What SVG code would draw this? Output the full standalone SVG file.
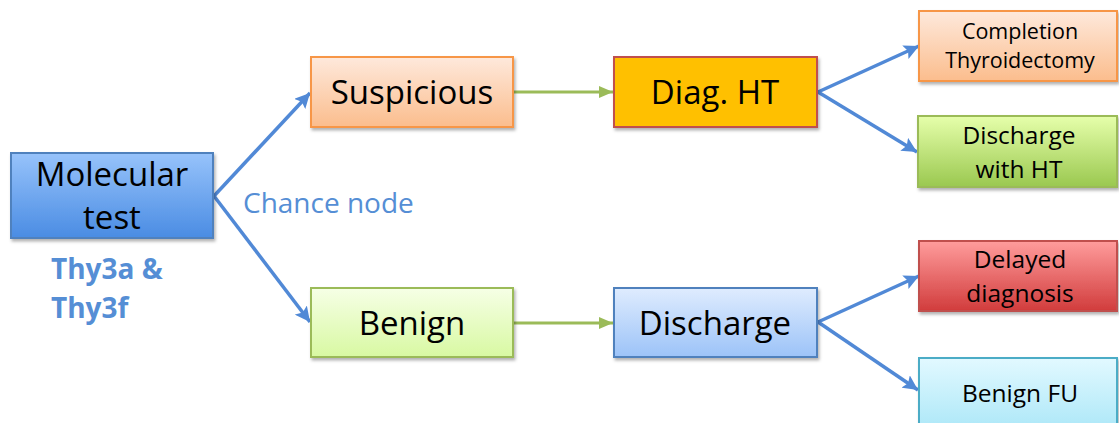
<svg xmlns="http://www.w3.org/2000/svg" width="1119" height="423" viewBox="0 0 1119 423">
  <style>
    .lbl { font-family: "Open Sans", "Liberation Sans", sans-serif; fill: #000; text-anchor: middle; }
    .big { font-size: 33px; }
    .sm { font-size: 24.5px; }
    .xs { font-size: 21.5px; }
    .box { stroke-width: 2; filter: url(#shadow); }
    .blue { stroke: #5189d6; stroke-width: 3.5; fill: none; marker-end: url(#headBlue); }
    .green { stroke: #9bbb59; stroke-width: 3; fill: none; marker-end: url(#headGreen); }
    .note { font-family: "Open Sans", "Liberation Sans", sans-serif; fill: #558ed5; }
  </style>
  <defs>
    <filter id="shadow" x="-10%" y="-10%" width="130%" height="140%">
      <feDropShadow dx="1.5" dy="2.5" stdDeviation="1.8" flood-color="#000" flood-opacity="0.3"/>
    </filter>
    <marker id="headBlue" markerUnits="userSpaceOnUse" markerWidth="17" markerHeight="15" refX="15" refY="7.5" orient="auto">
      <path d="M0,0 L15,7.5 L0,15 L3,7.5 Z" fill="#5189d6"/>
    </marker>
    <marker id="headGreen" markerUnits="userSpaceOnUse" markerWidth="16" markerHeight="14" refX="14" refY="7" orient="auto">
      <path d="M0,1 L14,7 L0,13 Z" fill="#9bbb59"/>
    </marker>
    <linearGradient id="gBlue" x1="0" y1="0" x2="0" y2="1">
      <stop offset="0" stop-color="#97c3fb"/>
      <stop offset="1" stop-color="#4a8ce3"/>
    </linearGradient>
    <linearGradient id="gOrange" x1="0" y1="0" x2="0" y2="1">
      <stop offset="0" stop-color="#fee9dc"/>
      <stop offset="1" stop-color="#fbbd8d"/>
    </linearGradient>
    <linearGradient id="gGreen" x1="0" y1="0" x2="0" y2="1">
      <stop offset="0" stop-color="#e6ffab"/>
      <stop offset="1" stop-color="#9ac84f"/>
    </linearGradient>
    <linearGradient id="gPaleGreen" x1="0" y1="0" x2="0" y2="1">
      <stop offset="0" stop-color="#f6ffe6"/>
      <stop offset="1" stop-color="#d8f9a2"/>
    </linearGradient>
    <linearGradient id="gLightBlue" x1="0" y1="0" x2="0" y2="1">
      <stop offset="0" stop-color="#dfecfe"/>
      <stop offset="1" stop-color="#9cc3f8"/>
    </linearGradient>
    <linearGradient id="gRed" x1="0" y1="0" x2="0" y2="1">
      <stop offset="0" stop-color="#ff9c9c"/>
      <stop offset="1" stop-color="#d13c3c"/>
    </linearGradient>
    <linearGradient id="gCyan" x1="0" y1="0" x2="0" y2="1">
      <stop offset="0" stop-color="#e2f9ff"/>
      <stop offset="1" stop-color="#aee8f8"/>
    </linearGradient>
  </defs>

  <rect width="1119" height="423" fill="#fff"/>

  <!-- connectors -->
  <g id="connectors">
    <line class="blue" x1="214" y1="196" x2="310" y2="93"/>
    <line class="blue" x1="214" y1="196" x2="310" y2="322"/>
    <line class="green" x1="514" y1="92" x2="613" y2="92"/>
    <line class="green" x1="514" y1="323" x2="613" y2="323"/>
    <line class="blue" x1="818" y1="92" x2="919" y2="46"/>
    <line class="blue" x1="818" y1="92" x2="917" y2="152"/>
    <line class="blue" x1="818" y1="322" x2="919" y2="276"/>
    <line class="blue" x1="818" y1="322" x2="918" y2="390"/>
  </g>

  <!-- root chance node -->
  <g id="molecular-test">
    <rect class="box" x="11" y="153" width="202" height="85" fill="url(#gBlue)" stroke="#4f81bd"/>
    <text class="lbl big" x="112" y="186">Molecular</text>
    <text class="lbl big" x="112" y="229">test</text>
  </g>

  <g id="chance-label">
    <text class="note" x="243" y="213" font-size="28">Chance node</text>
  </g>

  <g id="thy-label">
    <text class="note" x="51" y="279" font-size="28" font-weight="bold">Thy3a &amp;</text>
    <text class="note" x="51" y="318" font-size="28" font-weight="bold">Thy3f</text>
  </g>

  <g id="suspicious">
    <rect class="box" x="311" y="57" width="202" height="70" fill="url(#gOrange)" stroke="#f79646"/>
    <text class="lbl big" x="412" y="104">Suspicious</text>
  </g>

  <g id="benign">
    <rect class="box" x="311" y="288" width="202" height="69" fill="url(#gPaleGreen)" stroke="#9bbb59"/>
    <text class="lbl big" x="412" y="335">Benign</text>
  </g>

  <g id="diag-ht">
    <rect class="box" x="614" y="57" width="203" height="70" fill="#ffc000" stroke="#c0504d"/>
    <text class="lbl big" x="715" y="104">Diag. HT</text>
  </g>

  <g id="discharge">
    <rect class="box" x="614" y="288" width="203" height="69" fill="url(#gLightBlue)" stroke="#4f81bd"/>
    <text class="lbl big" x="715" y="335">Discharge</text>
  </g>

  <g id="completion-thyroidectomy">
    <rect class="box" x="919" y="11" width="198" height="70" fill="url(#gOrange)" stroke="#f79646"/>
    <text class="lbl xs" x="1020" y="39">Completion</text>
    <text class="lbl xs" x="1020" y="68">Thyroidectomy</text>
  </g>

  <g id="discharge-with-ht">
    <rect class="box" x="918" y="116" width="199" height="71" fill="url(#gGreen)" stroke="#9bbb59"/>
    <text class="lbl sm" x="1019" y="144">Discharge</text>
    <text class="lbl sm" x="1019" y="178">with HT</text>
  </g>

  <g id="delayed-diagnosis">
    <rect class="box" x="919" y="241" width="198" height="70" fill="url(#gRed)" stroke="#c0504d"/>
    <text class="lbl sm" x="1020" y="268">Delayed</text>
    <text class="lbl sm" x="1020" y="302">diagnosis</text>
  </g>

  <g id="benign-fu">
    <rect class="box" x="919" y="358" width="198" height="70" fill="url(#gCyan)" stroke="#4bacc6"/>
    <text class="lbl sm" x="1020" y="402">Benign FU</text>
  </g>
</svg>
